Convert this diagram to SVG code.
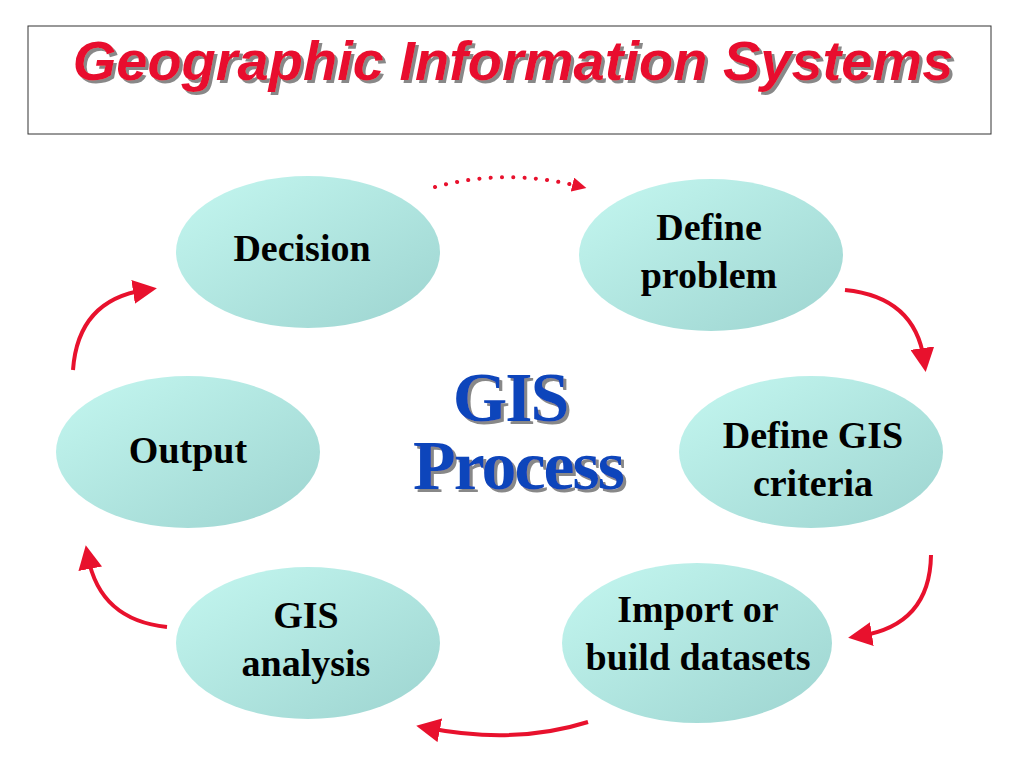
<svg xmlns="http://www.w3.org/2000/svg" width="1024" height="768" viewBox="0 0 1024 768">
<defs>
<linearGradient id="g" x1="0" y1="0" x2="1" y2="1">
<stop offset="0" stop-color="#c4f7f0"/><stop offset="1" stop-color="#9dd4d0"/>
</linearGradient>
<filter id="sh" x="-10%" y="-20%" width="120%" height="150%">
<feDropShadow dx="3" dy="3" stdDeviation="0.5" flood-color="#888" flood-opacity="1"/>
</filter>
<marker id="ah" viewBox="0 0 10 10" refX="5" refY="5" markerWidth="6" markerHeight="6" markerUnits="strokeWidth" orient="auto">
<path d="M0,0 L10,5 L0,10 z" fill="#e8112d"/>
</marker>
<marker id="ah2" viewBox="0 0 10 10" refX="4" refY="5" markerWidth="3.6" markerHeight="3.6" markerUnits="strokeWidth" orient="auto">
<path d="M0,0 L10,5 L0,10 z" fill="#e8112d"/>
</marker>
</defs>
<style>
.n{fill:url(#g)}
.t{font-family:"Liberation Serif",serif;font-weight:bold;font-size:38px;fill:#000;text-anchor:middle}
.c{fill:none;stroke:#e8112d;stroke-width:4}
</style>
<rect width="1024" height="768" fill="#fff"/>
<rect x="28" y="26" width="963" height="108" fill="none" stroke="#333" stroke-width="1"/>
<text x="513" y="80" font-family="Liberation Sans,sans-serif" font-weight="bold" font-style="italic" font-size="56" fill="#e8112d" text-anchor="middle" filter="url(#sh)">Geographic Information Systems</text>
<g id="decision"><ellipse class="n" cx="308" cy="252" rx="132" ry="76"/><text class="t" x="302" y="261">Decision</text></g>
<g id="define-problem"><ellipse class="n" cx="711" cy="255" rx="132" ry="76"/><text class="t" x="709" y="240">Define</text><text class="t" x="709" y="288">problem</text></g>
<g id="define-criteria"><ellipse class="n" cx="811" cy="452" rx="132" ry="76"/><text class="t" x="813" y="448">Define GIS</text><text class="t" x="813" y="496">criteria</text></g>
<g id="output"><ellipse class="n" cx="188" cy="452" rx="132" ry="76"/><text class="t" x="188" y="463">Output</text></g>
<g id="analysis"><ellipse class="n" cx="308" cy="643" rx="132" ry="76"/><text class="t" x="306" y="628">GIS</text><text class="t" x="306" y="676">analysis</text></g>
<g id="import"><ellipse class="n" cx="697" cy="643" rx="135" ry="80"/><text class="t" x="698" y="622">Import or</text><text class="t" x="698" y="670">build datasets</text></g>
<g id="center" font-family="Liberation Serif,serif" font-weight="bold" font-size="70" text-anchor="middle" fill="#1144bb" filter="url(#sh)">
<text x="510" y="421" letter-spacing="-2">GIS</text>
<text x="518" y="489" letter-spacing="-2">Process</text>
</g>
<g id="connectors">
<path class="c" d="M435,187 Q505,168 578,186" stroke-dasharray="0.1 11.2" stroke-linecap="round" stroke-width="8" marker-end="url(#ah2)"/>
<path class="c" d="M845,290 Q915,297 924,360" marker-end="url(#ah)"/>
<path class="c" d="M931,555 Q930,625 860,636" marker-end="url(#ah)"/>
<path class="c" d="M588,722 Q515,745 428,728" marker-end="url(#ah)"/>
<path class="c" d="M167,627 Q100,620 88,557" marker-end="url(#ah)"/>
<path class="c" d="M73,370 Q78,300 145,290" marker-end="url(#ah)"/>
</g>
</svg>
